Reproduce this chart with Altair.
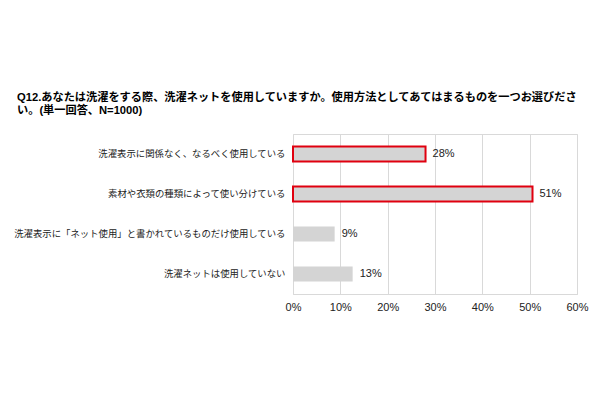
import altair as alt
import pandas as pd

categories = [
    "洗濯表示に関係なく、なるべく使用している",
    "素材や衣類の種類によって使い分けている",
    "洗濯表示に「ネット使用」と書かれているものだけ使用している",
    "洗濯ネットは使用していない",
]
values = [28.0, 50.6, 8.8, 12.6]
value_labels = ["28%", "51%", "9%", "13%"]
highlight = [True, True, False, False]
x_ticks = [0, 10, 20, 30, 40, 50, 60]
title_lines = [
    "Q12.あなたは洗濯をする際、洗濯ネットを使用していますか。使用方法としてあてはまるものを一つお選びださ",
    "い。(単一回答、N=1000)",
]

df = pd.DataFrame({
    "category": categories,
    "value": values,
    "label": value_labels,
    "hl": highlight,
})

FONT = "Liberation Sans, Noto Sans CJK JP, sans-serif"

y_enc = alt.Y(
    "category:N",
    sort=categories,
    title=None,
    scale=alt.Scale(paddingInner=0.625, paddingOuter=0.3125),
    axis=alt.Axis(
        ticks=False, domain=False, labelPadding=8, labelFontSize=9.4,
        labelFont=FONT, labelColor="#222", labelLimit=400, grid=False,
    ),
)
x_enc = alt.X(
    "value:Q",
    title=None,
    scale=alt.Scale(domain=[0, 60], nice=False),
    axis=alt.Axis(
        values=x_ticks, labelExpr="datum.value + '%'", ticks=False,
        domain=True, domainColor="#d9d9d9", gridColor="#d9d9d9", grid=True,
        labelFontSize=11, labelFont=FONT, labelColor="#222", labelPadding=7,
        labelFlush=False,
    ),
)

base = alt.Chart(df).encode(y=y_enc)

bars = base.mark_bar(fill="#d4d4d4", stroke="#e0000f").encode(
    x=x_enc,
    strokeWidth=alt.condition("datum.hl", alt.value(2), alt.value(0)),
)

texts = base.mark_text(
    align="left", baseline="middle", dx=7, fontSize=11, font=FONT, color="#222"
).encode(x="value:Q", text="label:N")

chart = (
    alt.layer(bars, texts)
    .properties(
        width=284,
        height=160,
        autosize=alt.AutoSizeParams(type="none"),
        padding={"left": 285, "top": 126, "right": 15, "bottom": 90},
        background="white",
        title=alt.TitleParams(
            text=title_lines,
            anchor="start",
            frame="group",
            dx=-276,
            offset=18,
            fontSize=11.2,
            fontWeight="bold",
            font=FONT,
            color="black",
            lineHeight=13,
        ),
    )
    .configure_view(stroke="#d9d9d9")
)

chart.save("out.html", embed_options={"renderer": "svg", "actions": False})
